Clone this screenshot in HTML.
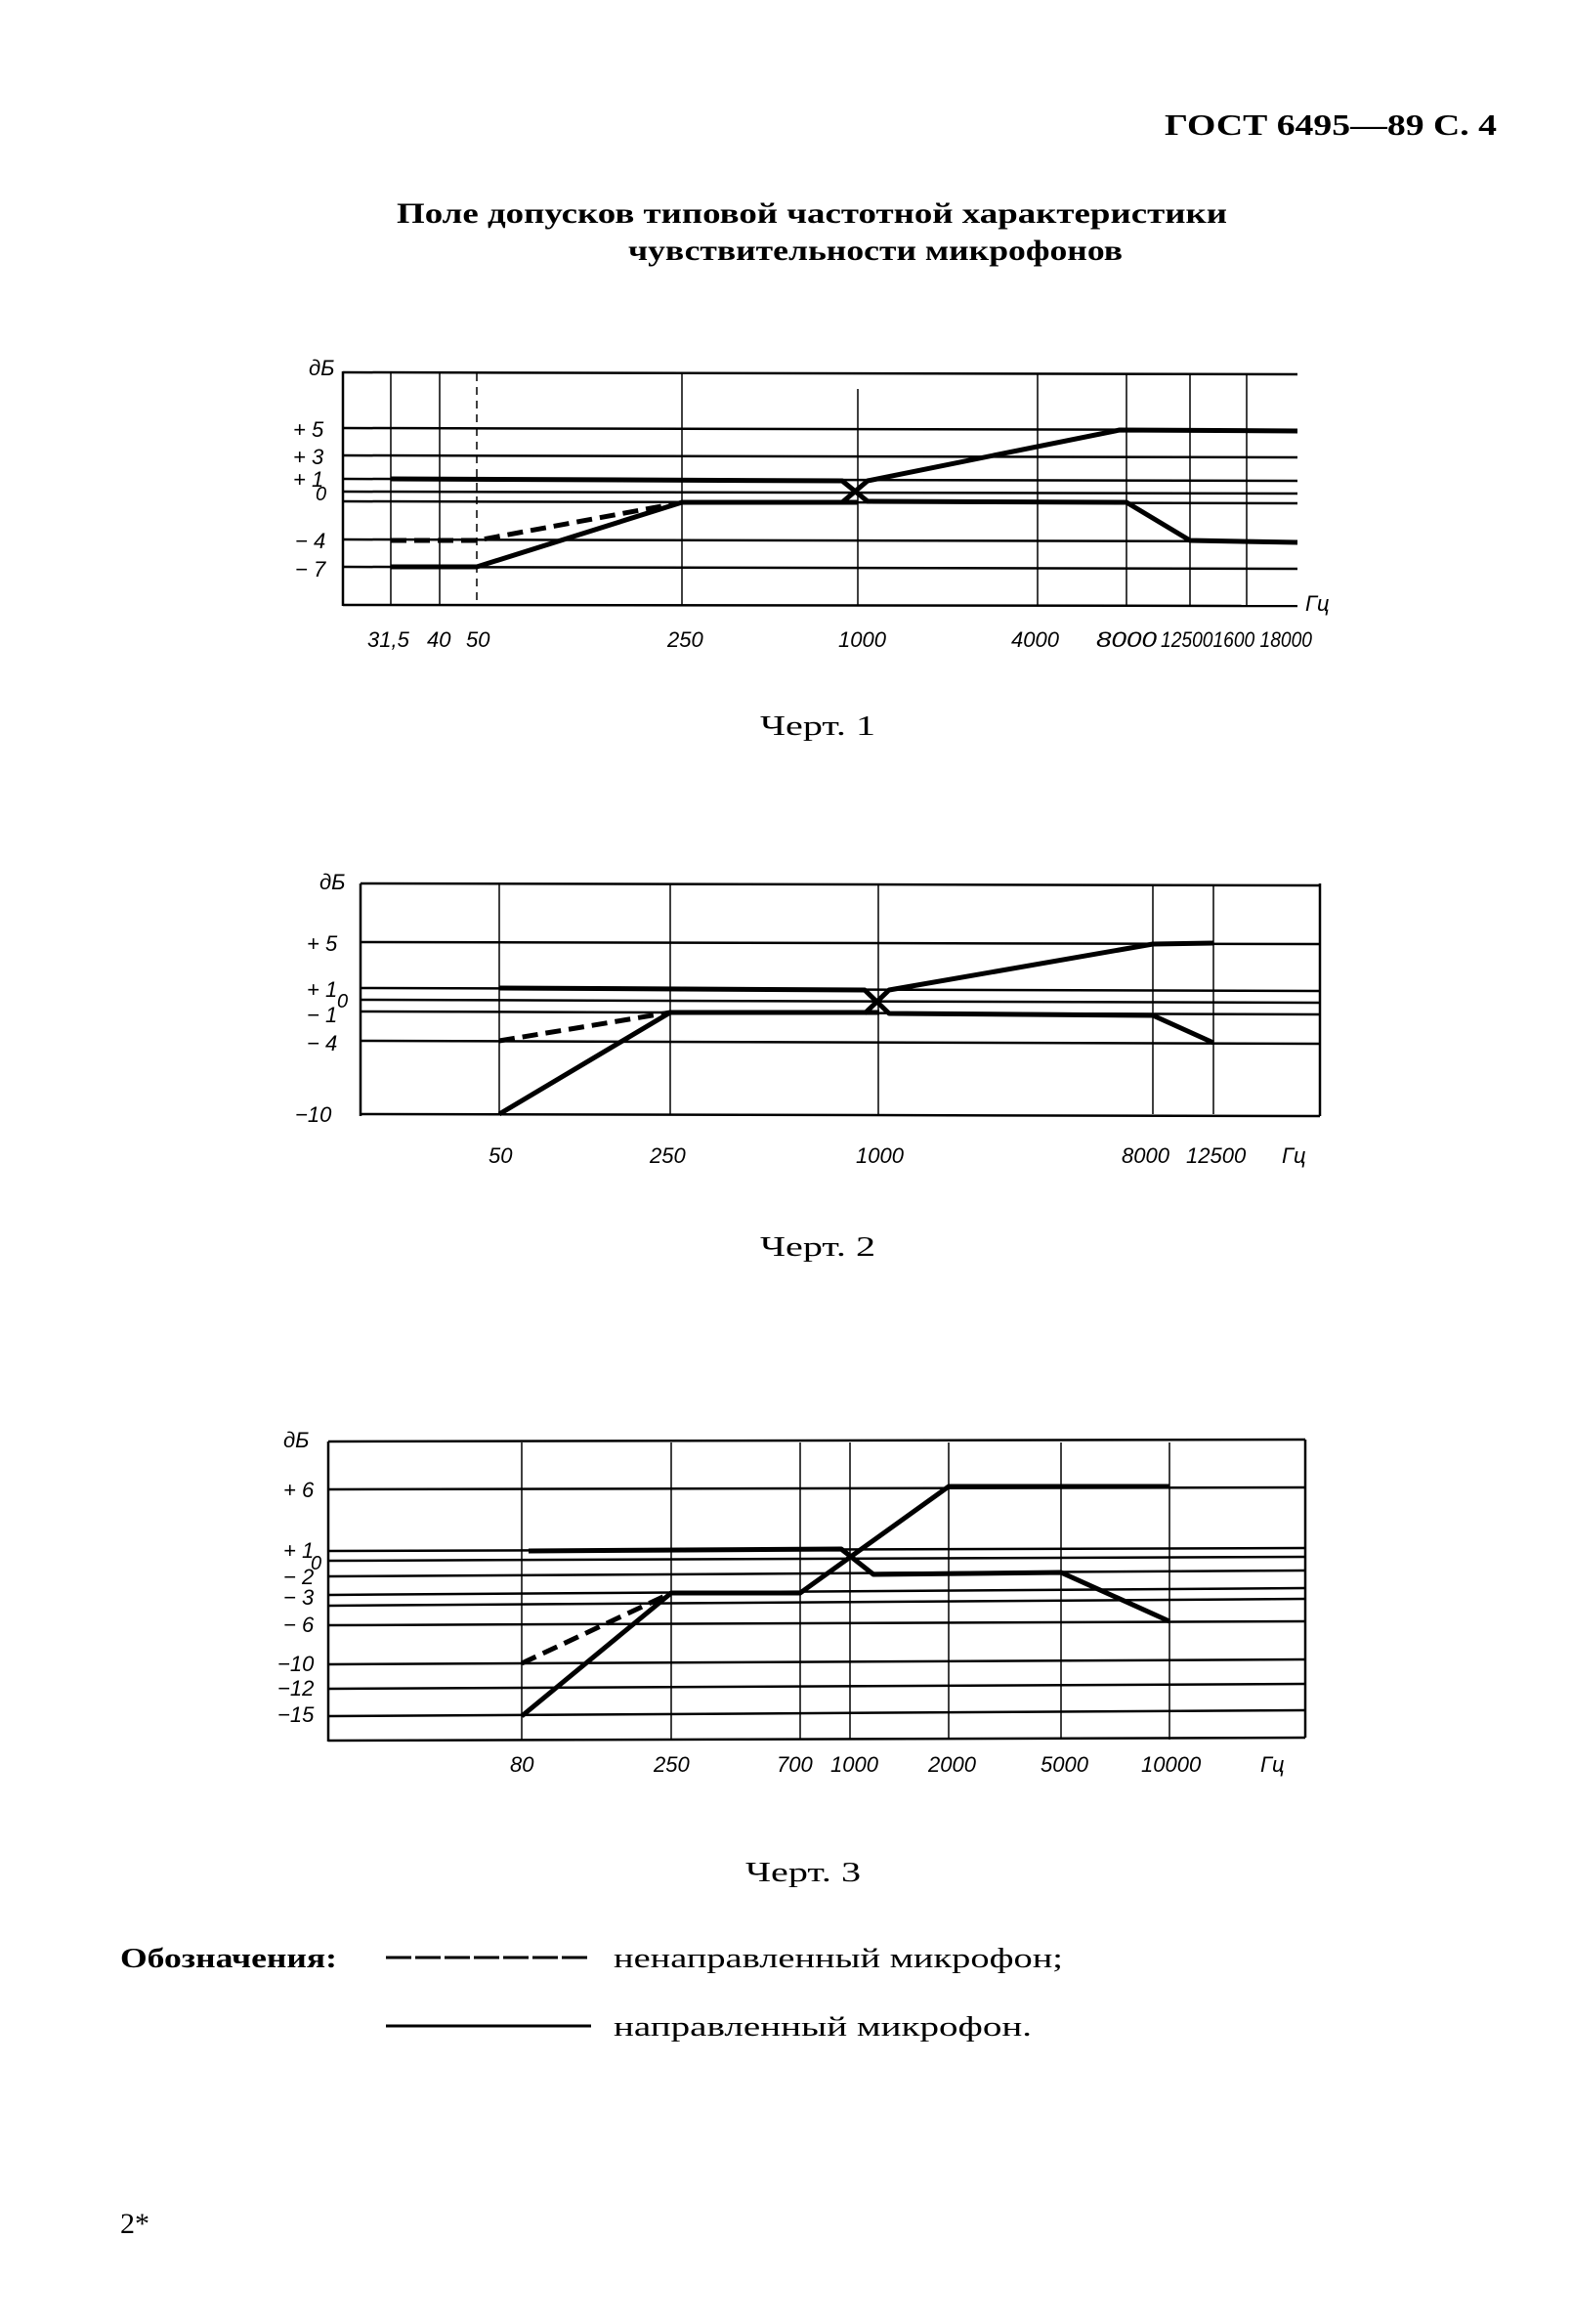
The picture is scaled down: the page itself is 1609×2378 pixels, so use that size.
<!DOCTYPE html>
<html><head><meta charset="utf-8"><style>
html,body{margin:0;padding:0;background:#fff;}
svg{display:block;}
.t{font-family:"Liberation Serif",serif;fill:#000;}
.a{font-family:"Liberation Sans",sans-serif;font-style:italic;fill:#000;font-size:22px;}
</style></head><body>
<svg width="1609" height="2378" viewBox="0 0 1609 2378" xmlns="http://www.w3.org/2000/svg">
<rect width="1609" height="2378" fill="#fff"/>
<text class="t" x="1192" y="138" font-size="31" font-weight="bold" textLength="340" lengthAdjust="spacingAndGlyphs">ГОСТ 6495—89 С. 4</text>
<text class="t" x="406" y="228" font-size="30" font-weight="bold" textLength="850" lengthAdjust="spacingAndGlyphs">Поле допусков типовой частотной характеристики</text>
<text class="t" x="643" y="266" font-size="30" font-weight="bold" textLength="506" lengthAdjust="spacingAndGlyphs">чувствительности микрофонов</text>

<!-- Chart 1 -->
<g stroke="#000" fill="none">
<g stroke-width="1.5">
<line x1="400" y1="382" x2="400" y2="619"/><line x1="450" y1="382" x2="450" y2="619"/>
<line x1="488" y1="382" x2="488" y2="619" stroke-dasharray="8,6"/><line x1="698" y1="382" x2="698" y2="619"/>
<line x1="878" y1="398" x2="878" y2="619"/><line x1="1062" y1="382" x2="1062" y2="619"/>
<line x1="1153" y1="382" x2="1153" y2="619"/><line x1="1218" y1="382" x2="1218" y2="619"/>
<line x1="1276" y1="382" x2="1276" y2="619"/>
</g>
<g stroke-width="2.5">
<line x1="351" y1="380" x2="351" y2="620"/>
<line x1="351" y1="381" x2="1328" y2="383"/>
<line x1="351" y1="619" x2="1328" y2="620"/>
<line x1="351" y1="438" x2="1328" y2="440"/>
<line x1="351" y1="466" x2="1328" y2="468"/>
<line x1="351" y1="490" x2="1328" y2="492"/>
<line x1="351" y1="503" x2="1328" y2="505"/>
<line x1="351" y1="513" x2="1328" y2="515"/>
<line x1="351" y1="552" x2="1328" y2="554"/>
<line x1="351" y1="580" x2="1328" y2="582"/>
</g>
<g stroke-width="5" stroke-linejoin="round">
<polyline points="400,490 862,492 888,513 1153,514 1218,553 1328,555"/>
<polyline points="400,580 488,580 698,514 878,514"/>
<polyline points="862,514 888,492 1146,440 1328,441"/>
<polyline points="400,553 488,553 688,516" stroke-dasharray="16,8"/>
</g>
</g>
<g class="a">
<text x="316" y="384">дБ</text>
<text x="300" y="447">+ 5</text><text x="300" y="475">+ 3</text>
<text x="300" y="498">+ 1</text><text x="323" y="512" font-size="20">0</text>
<text x="302" y="561">− 4</text><text x="302" y="590">− 7</text>
<text x="1336" y="625">Гц</text>
<text x="376" y="662">31,5</text><text x="437" y="662">40</text><text x="477" y="662">50</text>
<text x="683" y="662">250</text><text x="858" y="662">1000</text><text x="1035" y="662">4000</text>
<text x="1122" y="662" textLength="62" lengthAdjust="spacingAndGlyphs">8000</text>
<text x="1188" y="662" textLength="155" lengthAdjust="spacingAndGlyphs">125001600 18000</text>
</g>
<text class="t" x="778" y="752" font-size="28" textLength="118" lengthAdjust="spacingAndGlyphs">Черт. 1</text>

<!-- Chart 2 -->
<g stroke="#000" fill="none">
<g stroke-width="1.5">
<line x1="511" y1="905" x2="511" y2="1140"/><line x1="686" y1="905" x2="686" y2="1140"/>
<line x1="899" y1="905" x2="899" y2="1140"/><line x1="1180" y1="905" x2="1180" y2="1140"/>
<line x1="1242" y1="905" x2="1242" y2="1140"/>
</g>
<g stroke-width="2.5">
<line x1="369" y1="904" x2="369" y2="1142"/>
<line x1="1351" y1="904" x2="1351" y2="1142"/>
<line x1="369" y1="904" x2="1351" y2="906"/>
<line x1="369" y1="1140" x2="1351" y2="1142"/>
<line x1="369" y1="964" x2="1351" y2="966"/>
<line x1="369" y1="1011" x2="1351" y2="1014"/>
<line x1="369" y1="1023" x2="1351" y2="1026"/>
<line x1="369" y1="1035" x2="1351" y2="1038"/>
<line x1="369" y1="1065" x2="1351" y2="1068"/>
</g>
<g stroke-width="5" stroke-linejoin="round">
<polyline points="511,1011 885,1013 910,1037 1180,1039 1242,1067"/>
<polyline points="511,1140 686,1036 900,1036"/>
<polyline points="885,1037 910,1013 1180,966 1242,965"/>
<polyline points="511,1065 686,1036" stroke-dasharray="16,8"/>
</g>
</g>
<g class="a">
<text x="327" y="910">дБ</text>
<text x="314" y="973">+ 5</text><text x="314" y="1020">+ 1</text>
<text x="345" y="1031" font-size="20">0</text><text x="314" y="1046">− 1</text>
<text x="314" y="1075">− 4</text><text x="302" y="1148">−10</text>
<text x="500" y="1190">50</text><text x="665" y="1190">250</text><text x="876" y="1190">1000</text>
<text x="1148" y="1190">8000</text><text x="1214" y="1190">12500</text><text x="1312" y="1190">Гц</text>
</g>
<text class="t" x="778" y="1285" font-size="28" textLength="118" lengthAdjust="spacingAndGlyphs">Черт. 2</text>

<!-- Chart 3 -->
<g stroke="#000" fill="none">
<g stroke-width="1.5">
<line x1="534" y1="1476" x2="534" y2="1780"/><line x1="687" y1="1476" x2="687" y2="1780"/>
<line x1="819" y1="1476" x2="819" y2="1780"/><line x1="870" y1="1476" x2="870" y2="1780"/>
<line x1="971" y1="1476" x2="971" y2="1780"/><line x1="1086" y1="1476" x2="1086" y2="1780"/>
<line x1="1197" y1="1476" x2="1197" y2="1780"/>
</g>
<g stroke-width="2.5">
<line x1="336" y1="1475" x2="336" y2="1782"/>
<line x1="1336" y1="1473" x2="1336" y2="1778"/>
<line x1="336" y1="1475" x2="1336" y2="1473"/>
<line x1="336" y1="1781" x2="1336" y2="1778"/>
<line x1="336" y1="1524" x2="1336" y2="1522"/>
<line x1="336" y1="1587" x2="1336" y2="1584"/>
<line x1="336" y1="1597" x2="1336" y2="1593"/>
<line x1="336" y1="1613" x2="1336" y2="1607"/>
<line x1="336" y1="1632" x2="1336" y2="1625"/>
<line x1="336" y1="1643" x2="1336" y2="1636"/>
<line x1="336" y1="1663" x2="1336" y2="1659"/>
<line x1="336" y1="1703" x2="1336" y2="1698"/>
<line x1="336" y1="1728" x2="1336" y2="1723"/>
<line x1="336" y1="1756" x2="1336" y2="1750"/>
</g>
<g stroke-width="5" stroke-linejoin="round">
<polyline points="541,1587 861,1585 894,1611 1086,1609 1197,1659"/>
<polyline points="534,1756 687,1630 819,1630 971,1521 1197,1521"/>
<polyline points="534,1702 687,1630" stroke-dasharray="16,8"/>
</g>
</g>
<g class="a">
<text x="290" y="1481">дБ</text>
<text x="290" y="1532">+ 6</text><text x="290" y="1594">+ 1</text>
<text x="318" y="1606" font-size="20">0</text><text x="290" y="1621">− 2</text>
<text x="290" y="1642">− 3</text><text x="290" y="1670">− 6</text>
<text x="284" y="1710">−10</text><text x="284" y="1735">−12</text><text x="284" y="1762">−15</text>
<text x="522" y="1813">80</text><text x="669" y="1813">250</text><text x="795" y="1813">700</text>
<text x="850" y="1813">1000</text><text x="950" y="1813">2000</text><text x="1065" y="1813">5000</text>
<text x="1168" y="1813">10000</text><text x="1290" y="1813">Гц</text>
</g>
<text class="t" x="763" y="1925" font-size="28" textLength="118" lengthAdjust="spacingAndGlyphs">Черт. 3</text>

<!-- Legend -->
<text class="t" x="123" y="2013" font-size="28" font-weight="bold" textLength="222" lengthAdjust="spacingAndGlyphs">Обозначения:</text>
<line x1="395" y1="2003" x2="605" y2="2003" stroke="#000" stroke-width="3" stroke-dasharray="26,4"/>
<text class="t" x="628" y="2013" font-size="28" textLength="460" lengthAdjust="spacingAndGlyphs">ненаправленный микрофон;</text>
<line x1="395" y1="2073" x2="605" y2="2073" stroke="#000" stroke-width="3"/>
<text class="t" x="628" y="2083" font-size="28" textLength="428" lengthAdjust="spacingAndGlyphs">направленный микрофон.</text>
<text class="t" x="123" y="2285" font-size="30">2*</text>
</svg>
</body></html>
